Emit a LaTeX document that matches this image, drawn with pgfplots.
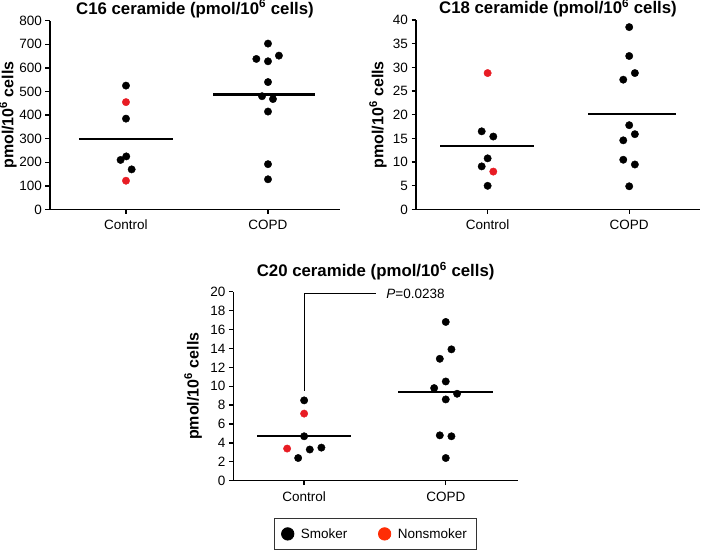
\documentclass[border=0pt]{standalone}
\usepackage{fontspec}
\setmainfont{Liberation Sans}
\usepackage{pgfplots}
\pgfplotsset{compat=1.18}
\definecolor{ptred}{RGB}{232,28,36}
\definecolor{legred}{RGB}{255,45,5}
\newcommand{\ttl}{\fontsize{16.8}{20}\selectfont\bfseries}
\pgfplotsset{
  myax/.style={
    scale only axis,
    axis x line*=bottom, axis y line*=left,
    axis line style={line width=1.3pt, -},
    tick align=outside, major tick length=4.5pt,
    tick style={line width=1.3pt, black},
    xtick={0,1}, xticklabels={Control,COPD},
    ymin=0,
    tick label style={font=\fontsize{13.5}{16}\selectfont},
    /pgf/number format/assume math mode=true,
    xticklabel style={anchor=base, yshift=-16pt},
    every axis title/.style={at={(0.5,1)}, anchor=base, inner sep=0pt},
    ylabel={pmol/10\textsuperscript{6} cells},
    every axis y label/.style={rotate=90, anchor=base, font=\fontsize{16}{19}\selectfont\bfseries},
    clip=false,
  },
  dot/.style={only marks, mark=*, mark size=3.7pt, forget plot},
  mean/.style={line width=2.3pt, black, no marks, forget plot},
}
\begin{document}
\begin{tikzpicture}
\path[use as bounding box] (0pt,0pt) rectangle (702pt,552pt);
% Panel 1: C16
\begin{axis}[myax, at={(50pt,342.5pt)}, anchor=south west, width=290pt, height=188.8pt,
  xmin=-0.535, xmax=1.507, ymax=800, ytick={0,100,...,800},
  title={\ttl C16 ceramide (pmol/10\textsuperscript{6} cells)},
  title style={yshift=6.5pt},
  ylabel style={at={(axis description cs:-0.126,0.5)}}]
\addplot[dot, black] coordinates {(0,525) (0,385) (0.002,225) (-0.038,210) (0.040,170)};
\addplot[dot, ptred] coordinates {(0,455) (0,122)};
\addplot[dot, black] coordinates {(1,703) (1.077,652) (0.918,638) (1,628) (1,540) (0.958,480) (1.035,468) (1,415) (1,192) (1,128)};
\addplot[mean] coordinates {(-0.331,300) (0.333,300)};
\addplot[mean] coordinates {(0.613,487) (1.329,487)};
\end{axis}
% Panel 2: C18
\begin{axis}[myax, at={(416pt,342.5pt)}, anchor=south west, width=284pt, height=189.5pt,
  xmin=-0.506, xmax=1.5, ymax=40, ytick={0,5,...,40},
  title={\ttl C18 ceramide (pmol/10\textsuperscript{6} cells)},
  title style={yshift=6.2pt},
  ylabel style={at={(axis description cs:-0.1151,0.5)}}]
\addplot[dot, black] coordinates {(-0.042,16.5) (0.04,15.4) (0,10.8) (-0.042,9.1) (0,5.0)};
\addplot[dot, ptred] coordinates {(0,28.8) (0.04,8.0)};
\addplot[dot, black] coordinates {(1,38.5) (1,32.4) (1.04,28.8) (0.958,27.4) (1,17.8) (1.04,15.9) (0.958,14.6) (0.958,10.5) (1.04,9.5) (1,4.9)};
\addplot[mean] coordinates {(-0.336,13.4) (0.329,13.4)};
\addplot[mean] coordinates {(0.711,20.1) (1.329,20.1)};
\end{axis}
% Panel 3: C20
\begin{axis}[myax, at={(233.3pt,71.3pt)}, anchor=south west, width=284.7pt, height=189pt,
  xmin=-0.50, xmax=1.51, ymax=20, ytick={0,2,...,20},
  title={\ttl C20 ceramide (pmol/10\textsuperscript{6} cells)},
  title style={yshift=15pt},
  ylabel style={at={(axis description cs:-0.1222,0.5)}},
  legend style={at={(axis description cs:0.4984,-0.2815)}, anchor=center,
    legend columns=2, draw=black!80, line width=0.8pt,
    inner xsep=7.5pt, inner ysep=8pt,
    font=\fontsize{13.5}{16}\selectfont,
    /tikz/every odd column/.append style={column sep=5pt},
    /tikz/every even column/.append style={column sep=29pt}},
  ]
\addplot[dot, black] coordinates {(0,8.5) (0,4.7) (0.122,3.5) (0.04,3.3) (-0.042,2.4)};
\addplot[dot, ptred] coordinates {(0,7.1) (-0.12,3.4)};
\addplot[dot, black] coordinates {(1,16.8) (1.04,13.9) (0.958,12.9) (1,10.5) (0.918,9.8) (1.08,9.2) (1,8.6) (0.958,4.8) (1.04,4.7) (1,2.4)};
\addplot[mean] coordinates {(-0.331,4.7) (0.333,4.7)};
\addplot[mean] coordinates {(0.664,9.4) (1.334,9.4)};
\addplot[line width=0.8pt, black, no marks, forget plot] coordinates {(0,9.5) (0,19.8) (0.51,19.8)};
\node[anchor=west, font=\fontsize{13.5}{16}\selectfont, inner sep=0pt] at (axis cs:0.58,19.8) {\textit{P}=0.0238};
\addlegendimage{only marks, mark=*, black, mark size=6.2pt}
\addlegendentry{Smoker}
\addlegendimage{only marks, mark=*, legred, draw=legred, mark size=6.2pt}
\addlegendentry{Nonsmoker}
\end{axis}
\end{tikzpicture}
\end{document}
